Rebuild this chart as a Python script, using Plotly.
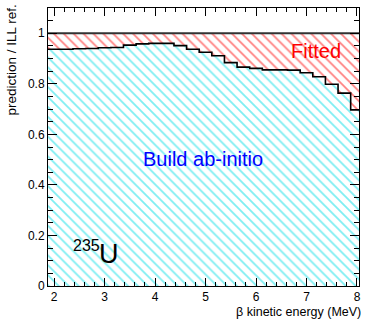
import plotly.graph_objects as go

# Bin layout of the spectrum ratio (0.25 MeV bins centred on 2.0 ... 8.0 MeV)
bin_low_edge = 1.875
bin_width = 0.25
ratio_ab_initio = [
    0.937, 0.937, 0.939, 0.940, 0.943, 0.944, 0.953, 0.958, 0.960, 0.960,
    0.951, 0.937, 0.925, 0.911, 0.884, 0.866, 0.861, 0.855, 0.855, 0.854,
    0.844, 0.828, 0.798, 0.763, 0.697,
]
fitted_level = 1.0

x_ticks = [2, 3, 4, 5, 6, 7, 8]
y_ticks = [0, 0.2, 0.4, 0.6, 0.8, 1]
y_tick_text = ["0", "0.2", "0.4", "0.6", "0.8", "1"]

edges = [bin_low_edge + i * bin_width for i in range(len(ratio_ab_initio) + 1)]
step_y = ratio_ab_initio + [ratio_ab_initio[-1]]

fig = go.Figure()

# ab-initio build: cyan hatched area under the step histogram
fig.add_trace(go.Scatter(
    x=edges, y=step_y, mode="lines", line_shape="hv",
    line=dict(color="black", width=1.6),
    fill="tozeroy", fillcolor="rgba(0,0,0,0)",
    fillpattern=dict(shape="\\", fgcolor="#00dde6", bgcolor="white",
                     size=7, solidity=0.26),
    hoverinfo="skip", showlegend=False,
))

# fitted part: red hatched band between the histogram and unity
fig.add_trace(go.Scatter(
    x=edges, y=[fitted_level] * len(edges), mode="lines", line_shape="hv",
    line=dict(color="#333333", width=1.8),
    fill="tonexty", fillcolor="rgba(0,0,0,0)",
    fillpattern=dict(shape="\\", fgcolor="#ff0000", bgcolor="white",
                     size=7, solidity=0.24),
    hoverinfo="skip", showlegend=False,
))

font = "Liberation Sans, Arial, Helvetica, sans-serif"

fig.add_annotation(x=7.19, y=0.931, text="Fitted", showarrow=False,
                   font=dict(family=font, size=20, color="red"))
fig.add_annotation(x=4.946, y=0.502, text="Build ab-initio", showarrow=False,
                   font=dict(family=font, size=20, color="#0000ff"))
fig.add_annotation(x=2.642, y=0.162, text="235", showarrow=False,
                   font=dict(family=font, size=16, color="black"))
fig.add_annotation(x=3.085, y=0.125, text="U", showarrow=False,
                   font=dict(family=font, size=27, color="black"))

# axis titles, right-aligned at the end of each axis
fig.add_annotation(xref="paper", yref="paper", x=1.012, y=-0.094,
                   xanchor="right", yanchor="middle", showarrow=False,
                   text="β kinetic energy (MeV)",
                   font=dict(family=font, size=12.5, color="black"))
fig.add_annotation(xref="paper", yref="paper", x=-0.117, y=1.02,
                   xanchor="center", yanchor="top", textangle=-90,
                   showarrow=False, text="prediction / ILL ref.",
                   font=dict(family=font, size=13.5, color="black"))

axis_common = dict(
    showgrid=False, zeroline=False, showline=True, linecolor="black",
    linewidth=1, mirror="ticks", ticks="inside", tickcolor="black",
    tickfont=dict(family=font, size=12, color="black"),
)

fig.update_xaxes(
    range=[1.88, 8.04], tickvals=x_ticks, ticklen=8, tickwidth=1,
    minor=dict(dtick=0.2, tick0=2, ticklen=4, ticks="inside",
               tickcolor="black", showgrid=False),
    **axis_common,
)
fig.update_yaxes(
    range=[0, 1.1], tickvals=y_ticks, ticktext=y_tick_text,
    ticklen=9, tickwidth=1,
    minor=dict(dtick=0.05, tick0=0, ticklen=5, ticks="inside",
               tickcolor="black", showgrid=False),
    **axis_common,
)

fig.update_layout(
    width=366, height=320,
    margin=dict(l=48, r=5, t=8, b=34),
    paper_bgcolor="white", plot_bgcolor="white",
    font=dict(family=font),
)

fig.write_html("out.html")
